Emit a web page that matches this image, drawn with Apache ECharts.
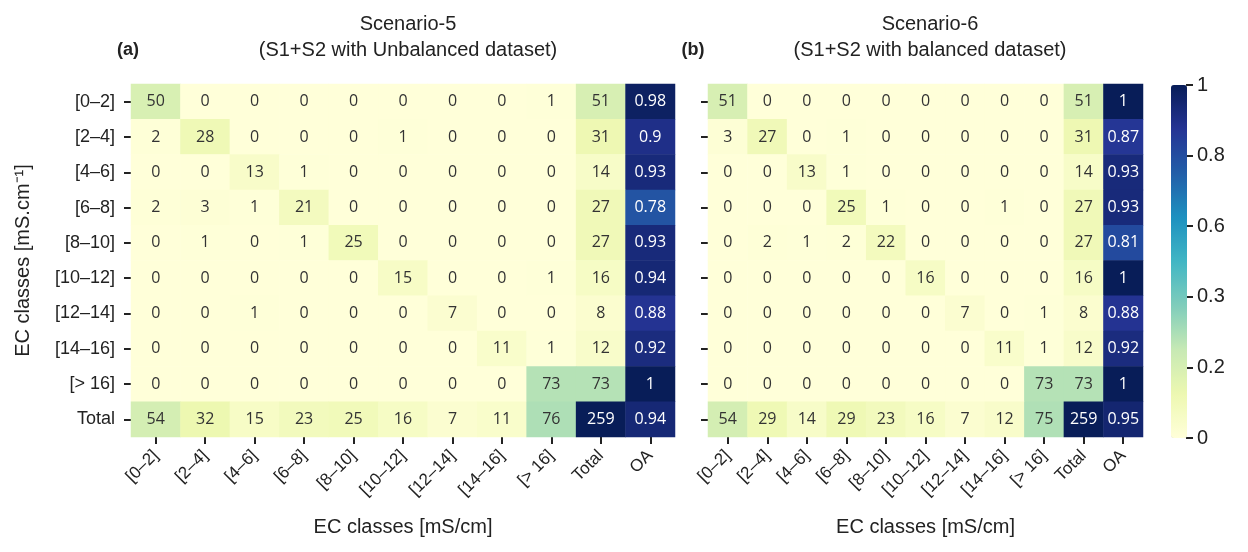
<!DOCTYPE html>
<html>
<head>
<meta charset="utf-8">
<script src="https://cdn.jsdelivr.net/npm/echarts@6/dist/echarts.min.js"></script>
<style>
  html, body { margin: 0; padding: 0; background: #fff; }
  #chart { width: 1248px; height: 552px; }
</style>
</head>
<body>
<div id="chart"></div>
<script>
// class labels (rows = reference, columns = predicted)
const rowClasses = ['[0–2]', '[2–4]', '[4–6]', '[6–8]', '[8–10]', '[10–12]', '[12–14]', '[14–16]', '[> 16]', 'Total']
const colClasses = ['[0–2]', '[2–4]', '[4–6]', '[6–8]', '[8–10]', '[10–12]', '[12–14]', '[14–16]', '[> 16]', 'Total', 'OA']

// Scenario-5 : counts per row, then row total, then OA
const scenario5 = [
  [50, 0, 0, 0, 0, 0, 0, 0, 1, 51, 0.98],
  [2, 28, 0, 0, 0, 1, 0, 0, 0, 31, 0.9],
  [0, 0, 13, 1, 0, 0, 0, 0, 0, 14, 0.93],
  [2, 3, 1, 21, 0, 0, 0, 0, 0, 27, 0.78],
  [0, 1, 0, 1, 25, 0, 0, 0, 0, 27, 0.93],
  [0, 0, 0, 0, 0, 15, 0, 0, 1, 16, 0.94],
  [0, 0, 1, 0, 0, 0, 7, 0, 0, 8, 0.88],
  [0, 0, 0, 0, 0, 0, 0, 11, 1, 12, 0.92],
  [0, 0, 0, 0, 0, 0, 0, 0, 73, 73, 1],
  [54, 32, 15, 23, 25, 16, 7, 11, 76, 259, 0.94]
]

// Scenario-6
const scenario6 = [
  [51, 0, 0, 0, 0, 0, 0, 0, 0, 51, 1],
  [3, 27, 0, 1, 0, 0, 0, 0, 0, 31, 0.87],
  [0, 0, 13, 1, 0, 0, 0, 0, 0, 14, 0.93],
  [0, 0, 0, 25, 1, 0, 0, 1, 0, 27, 0.93],
  [0, 2, 1, 2, 22, 0, 0, 0, 0, 27, 0.81],
  [0, 0, 0, 0, 0, 16, 0, 0, 0, 16, 1],
  [0, 0, 0, 0, 0, 0, 7, 0, 1, 8, 0.88],
  [0, 0, 0, 0, 0, 0, 0, 11, 1, 12, 0.92],
  [0, 0, 0, 0, 0, 0, 0, 0, 73, 73, 1],
  [54, 29, 14, 29, 23, 16, 7, 12, 75, 259, 0.95]
]

// colour bar tick labels
const colorbarTicks = ['0', '0.2', '0.3', '0.6', '0.8', '1']

const ylgnbu = ['#ffffd9', '#edf8b1', '#c7e9b4', '#7fcdbb', '#41b6c4', '#1d91c0', '#225ea8', '#253494', '#081d58']
const axisFont = 'Liberation Sans, Arial, sans-serif'
const cellFont = 'Open Sans, Noto Sans, sans-serif'

// build [x, y, shown value, colour value]
function toCells (matrix) {
  const grand = matrix[matrix.length - 1][colClasses.length - 2]
  const cells = []
  matrix.forEach((row, y) => {
    row.forEach((v, x) => {
      const c = x === colClasses.length - 1 ? v : v / grand
      cells.push({
        value: [x, y, v, c],
        label: { color: c > 0.55 ? '#ffffff' : '#333333' }
      })
    })
  })
  return cells
}

const chart = echarts.init(document.getElementById('chart'))

const tickStyle = { show: true, interval: 0, alignWithLabel: true, length: 7, lineStyle: { color: '#222', width: 2 } }

const xAxisBase = {
  type: 'category',
  data: colClasses,
  axisLine: { show: true, lineStyle: { color: 'rgba(0,0,0,0)' } },
  axisTick: tickStyle,
  axisLabel: { rotate: 45, interval: 0, fontSize: 17, fontFamily: axisFont, color: '#222', margin: 16 },
  splitLine: { show: false },
  name: 'EC classes [mS/cm]',
  nameLocation: 'middle',
  nameGap: 80,
  nameTextStyle: { fontSize: 20, fontFamily: axisFont, color: '#222' }
}

const yAxisBase = {
  type: 'category',
  data: rowClasses,
  inverse: true,
  axisLine: { show: true, lineStyle: { color: 'rgba(0,0,0,0)' } },
  axisTick: tickStyle,
  axisLabel: { interval: 0, fontSize: 18, fontFamily: axisFont, color: '#222', margin: 16 },
  splitLine: { show: false }
}

const seriesBase = {
  type: 'heatmap',
  label: {
    show: true,
    fontSize: 16,
    fontFamily: cellFont,
    formatter: p => p.value[2]
  },
  itemStyle: { borderWidth: 0 },
  emphasis: { disabled: true },
  progressive: 0
}

const option = {
  animation: false,
  title: [
    {
      text: 'Scenario-5\n(S1+S2 with Unbalanced dataset)',
      left: 403, top: 6, textAlign: 'center',
      textStyle: { fontSize: 20, fontWeight: 'normal', fontFamily: axisFont, color: '#222', lineHeight: 26 }
    },
    {
      text: '(a)',
      left: 123, top: 36, textAlign: 'center',
      textStyle: { fontSize: 18, fontWeight: 'bold', fontFamily: axisFont, color: '#222' }
    },
    {
      text: 'Scenario-6\n(S1+S2 with balanced dataset)',
      left: 925, top: 6, textAlign: 'center',
      textStyle: { fontSize: 20, fontWeight: 'normal', fontFamily: axisFont, color: '#222', lineHeight: 26 }
    },
    {
      text: '(b)',
      left: 688, top: 36, textAlign: 'center',
      textStyle: { fontSize: 18, fontWeight: 'bold', fontFamily: axisFont, color: '#222' }
    }
  ],
  grid: [
    { left: 131, top: 84, width: 544, height: 353 },
    { left: 708, top: 84, width: 435, height: 353 },
    { left: 1186, top: 85, width: 1, height: 353 }
  ],
  xAxis: [
    Object.assign({}, xAxisBase, { gridIndex: 0 }),
    Object.assign({}, xAxisBase, { gridIndex: 1 }),
    { type: 'value', gridIndex: 2, show: false }
  ],
  yAxis: [
    Object.assign({}, yAxisBase, {
      gridIndex: 0,
      name: 'EC classes [mS.cm⁻¹]',
      nameLocation: 'middle',
      nameRotate: 90,
      nameGap: 98,
      nameTextStyle: { fontSize: 20, fontFamily: axisFont, color: '#222' }
    }),
    Object.assign({}, yAxisBase, { gridIndex: 1, axisLabel: { show: false } }),
    {
      type: 'category',
      gridIndex: 2,
      data: colorbarTicks,
      position: 'right',
      boundaryGap: false,
      axisLine: { show: false },
      axisTick: { show: true, length: 7, lineStyle: { color: '#222', width: 2 } },
      axisLabel: { fontSize: 20, fontFamily: axisFont, color: '#222', margin: 10 },
      splitLine: { show: false }
    }
  ],
  visualMap: {
    type: 'continuous',
    min: 0,
    max: 1,
    dimension: 3,
    seriesIndex: [0, 1],
    calculable: false,
    hoverLink: false,
    orient: 'vertical',
    left: 1171,
    top: 85,
    padding: 0,
    itemWidth: 16,
    itemHeight: 353,
    text: null,
    showLabel: false,
    inRange: { color: ylgnbu }
  },
  series: [
    Object.assign({}, seriesBase, { xAxisIndex: 0, yAxisIndex: 0, data: toCells(scenario5) }),
    Object.assign({}, seriesBase, { xAxisIndex: 1, yAxisIndex: 1, data: toCells(scenario6) })
  ]
}

chart.setOption(option)
</script>
</body>
</html>
